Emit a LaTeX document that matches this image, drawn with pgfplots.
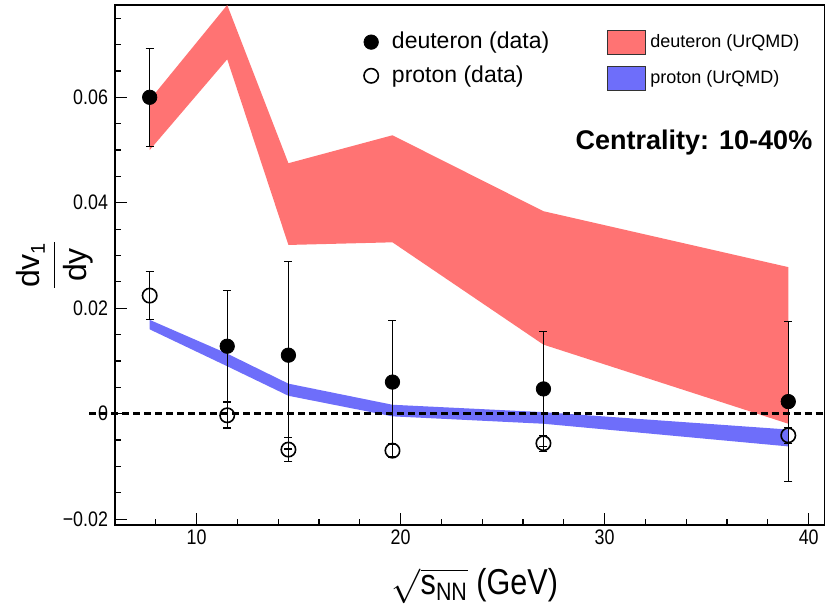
\documentclass[border=0pt]{standalone}
\usepackage{fontspec}
\setmainfont{Liberation Sans}
\newfontfamily\narrowsans{Liberation Sans}[FakeStretch=0.85]
\usepackage{pgfplots}
\pgfplotsset{compat=1.18}
\definecolor{bandred}{RGB}{255,115,115}
\definecolor{bandblue}{RGB}{110,110,250}
\begin{document}
\begin{tikzpicture}
\begin{axis}[name=main, scale only axis, width=355pt, height=260pt,
  xmin=6, xmax=40.8, ymin=-0.0211, ymax=0.0775,
  clip mode=individual,
  axis line style={line width=1pt, black},
  every tick/.style={black, line width=0.6pt},
  tick align=inside, xtick pos=bottom, ytick pos=left,
  major tick length=6pt, minor tick length=3pt,
  xtick={10,20,30,40}, xticklabels={10,20,30,40},
  minor xtick={8,12,14,16,18,22,24,26,28,32,34,36,38},
  ytick={-0.02,0,0.02,0.04,0.06}, yticklabels={−0.02,0,0.02,0.04,0.06},
  minor ytick={-0.015,-0.01,-0.005,0.005,0.01,0.015,0.025,0.03,0.035,0.045,0.05,0.055,0.065,0.07,0.075},
  scaled y ticks=false,
  ticklabel style={font=\narrowsans\fontsize{10.5}{12}\selectfont},
  xticklabel style={inner sep=2pt},
  xlabel={\narrowsans\fontsize{18}{20}\selectfont $\sqrt{\mbox{s\textsubscript{NN}}}$ (GeV)},
  every axis x label/.style={at={(axis description cs:0.5,0)}, anchor=base, inner sep=0pt, yshift=-35pt, xshift=2.5pt},
  ylabel={\fontsize{16}{18}\selectfont $\displaystyle\frac{\mbox{dv}_{\mbox{\fontsize{10}{10}\selectfont 1}}}{\mbox{dy}}$},
  every axis y label/.style={at={(axis description cs:0,0.5)}, anchor=center, xshift=-30pt, rotate=90, inner sep=0pt},
  legend style={at={(0.3366,0.956)}, anchor=north west, draw=none, fill=none, inner sep=0pt, row sep=3pt, font=\fontsize{11.5}{13}\selectfont},
  legend cell align=left,
  legend image code/.code={\path (0pt,0pt) (16pt,0pt); \draw[#1] plot coordinates {(8pt,0pt)};},
]
\addlegendimage{only marks, mark=*, mark size=3.6pt, black}
\addlegendentry{deuteron (data)}
\addlegendimage{only marks, mark=o, mark size=3.6pt, black, line width=0.8pt}
\addlegendentry{proton (data)}
% deuteron UrQMD band
\addplot[fill=bandred, draw=none, forget plot] coordinates {
 (7.7,0.0595) (11.5,0.0775) (14.5,0.0475) (19.6,0.0528) (27,0.0384) (39,0.0278)
 (39,-0.0019) (27,0.0131) (19.6,0.0325) (14.5,0.0320) (11.5,0.0672) (7.7,0.0500)} -- cycle;
% proton UrQMD band
\addplot[fill=bandblue, draw=none, forget plot] coordinates {
 (7.7,0.0178) (11.5,0.0114) (14.5,0.0057) (19.6,0.0017) (27,0.0003) (39,-0.0030)
 (39,-0.0062) (27,-0.0019) (19.6,-0.0005) (14.5,0.0034) (11.5,0.0090) (7.7,0.0160)} -- cycle;
\draw[black, line width=1.4pt, dash pattern=on 3.5pt off 2pt] (axis cs:4.75,0) -- (axis cs:40.8,0);
% deuteron data
\addplot[only marks, mark=*, mark size=3.6pt, black, forget plot,
  error bars/.cd, y dir=both, y explicit,
  error bar style={line width=0.6pt, black},
  error mark options={rotate=90, line width=0.6pt, mark size=2pt, black}]
 table[x=x, y=y, y error=e] {
 x y e
 7.7 0.0600 0.0093
 11.5 0.0128 0.0105
 14.5 0.0111 0.0178
 19.6 0.0060 0.0117
 27 0.0047 0.0109
 39 0.0023 0.0152
 };
% proton data
\addplot[only marks, mark=o, mark size=3.6pt, black, line width=0.8pt, forget plot,
  error bars/.cd, y dir=both, y explicit,
  error bar style={line width=0.6pt, black},
  error mark options={rotate=90, line width=0.6pt, mark size=2pt, black}]
 table[x=x, y=y, y error=e] {
 x y e
 7.7 0.0224 0.0046
 11.5 -0.0003 0.0024
 14.5 -0.0068 0.0023
 19.6 -0.0070 0.0012
 27 -0.0056 0.0015
 39 -0.0041 0.0015
 };
\node[font=\bfseries\fontsize{13.5}{15}\selectfont] at (rel axis cs:0.8155,0.7365) {Centrality: 10-40\%};
\end{axis}
\begin{axis}[scale only axis, width=355pt, height=260pt, at={(main.south west)}, anchor=south west,
  hide axis, xmin=0, xmax=1, ymin=0, ymax=1,
  legend style={at={(0.693,0.953)}, anchor=north west, draw=none, fill=none, inner sep=0pt, row sep=5.5pt, font=\fontsize{9}{10}\selectfont},
  legend cell align=left,
  legend image code/.code={\draw[#1] (0pt,-6pt) rectangle (19pt,6pt);},
]
\addlegendimage{fill=bandred, draw=black!80, line width=0.5pt}
\addlegendentry{deuteron (UrQMD)}
\addlegendimage{fill=bandblue, draw=black!80, line width=0.5pt}
\addlegendentry{proton (UrQMD)}
\end{axis}
\pgfresetboundingbox
\path[use as bounding box] ([xshift=-57.5pt,yshift=-39.5pt]main.south west) rectangle ([yshift=2.5pt]main.north east);
\end{tikzpicture}
\end{document}
